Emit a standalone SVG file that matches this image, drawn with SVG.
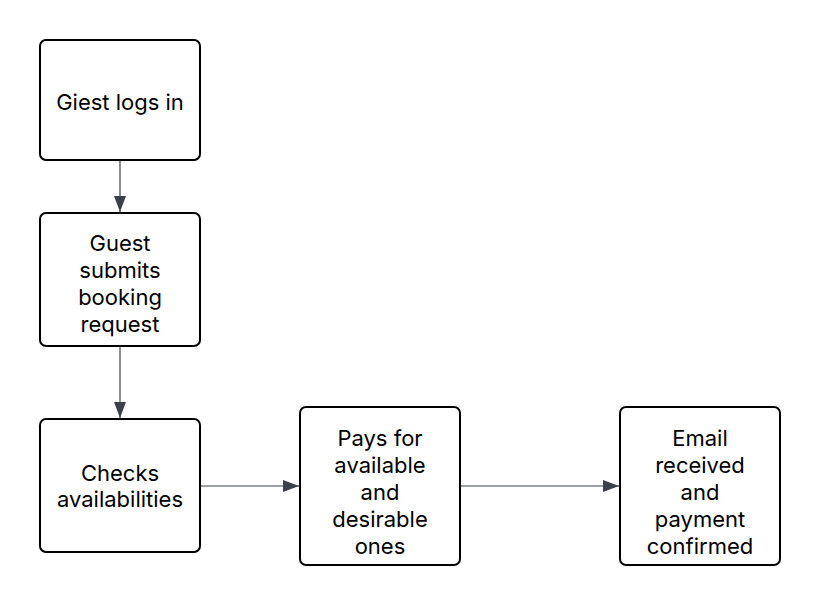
<svg xmlns="http://www.w3.org/2000/svg" width="820" height="605" viewBox="0 0 820 605">
<style>
.node{fill:#ffffff;stroke:#000000;stroke-width:2}
.label{font-family:Inter,"Noto Sans","Liberation Sans",sans-serif;font-size:22px;fill:#000000;text-anchor:middle}
.edge{stroke:#3b4049;stroke-width:1.2;fill:none}
</style>
<defs>
<marker id="arr" viewBox="0 0 16 12" refX="16" refY="6" markerWidth="16" markerHeight="12" markerUnits="userSpaceOnUse" orient="auto">
<path d="M0,0 L16,6 L0,12 Z" fill="#3b4049"/>
</marker>
</defs>
<rect width="820" height="605" fill="#ffffff"/>
<g id="connectors">
<line class="edge" x1="120" y1="160" x2="120" y2="212" marker-end="url(#arr)"/>
<line class="edge" x1="120" y1="346" x2="120" y2="418" marker-end="url(#arr)"/>
<line class="edge" x1="200" y1="486" x2="299" y2="486" marker-end="url(#arr)"/>
<line class="edge" x1="460" y1="486" x2="619" y2="486" marker-end="url(#arr)"/>
</g>
<g id="n1">
<rect class="node" x="40" y="40" width="160" height="120" rx="6"/>
<text class="label" x="120" y="110">Giest logs in</text>
</g>
<g id="n2">
<rect class="node" x="40" y="213" width="160" height="133" rx="6"/>
<text class="label" x="120" y="251">Guest</text>
<text class="label" x="120" y="278">submits</text>
<text class="label" x="120" y="305">booking</text>
<text class="label" x="120" y="332">request</text>
</g>
<g id="n3">
<rect class="node" x="40" y="419" width="160" height="133" rx="6"/>
<text class="label" x="120" y="481">Checks</text>
<text class="label" x="120" y="507">availabilities</text>
</g>
<g id="n4">
<rect class="node" x="300" y="407" width="160" height="158" rx="6"/>
<text class="label" x="380" y="446">Pays for</text>
<text class="label" x="380" y="473">available</text>
<text class="label" x="380" y="500">and</text>
<text class="label" x="380" y="527">desirable</text>
<text class="label" x="380" y="554">ones</text>
</g>
<g id="n5">
<rect class="node" x="620" y="407" width="160" height="158" rx="6"/>
<text class="label" x="700" y="446">Email</text>
<text class="label" x="700" y="473">received</text>
<text class="label" x="700" y="500">and</text>
<text class="label" x="700" y="527">payment</text>
<text class="label" x="700" y="554">confirmed</text>
</g>
</svg>
